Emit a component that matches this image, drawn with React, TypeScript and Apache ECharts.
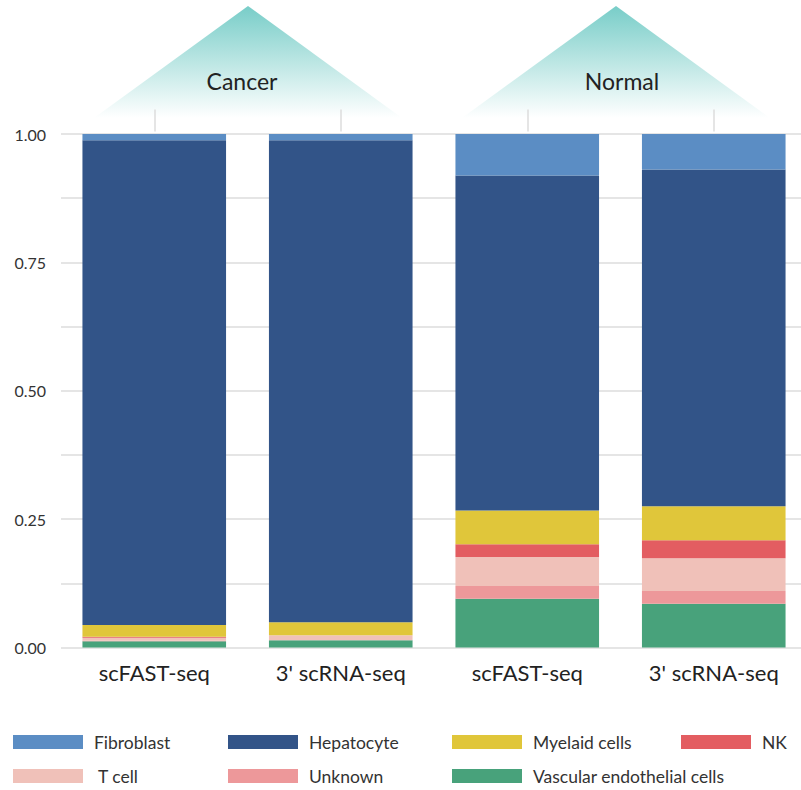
import React, { useEffect, useRef } from "react";
import * as echarts from "echarts";

const categories = ["scFAST-seq", "3' scRNA-seq", "scFAST-seq", "3' scRNA-seq"];
const yTicks = [0, 0.25, 0.5, 0.75, 1.0];

// stacked from bottom to top
const vascular = [0.012, 0.014, 0.095, 0.085];
const unknown = [0.001, 0.0, 0.025, 0.025];
const tcell = [0.006, 0.01, 0.056, 0.064];
const nk = [0.002, 0.0, 0.025, 0.035];
const myelaid = [0.023, 0.025, 0.066, 0.066];
const hepatocyte = [0.944, 0.939, 0.652, 0.656];
const fibroblast = [0.012, 0.012, 0.081, 0.069];

const groups = ["Cancer", "Normal"];

const FONT = "Lato";

export default function App() {
  const ref = useRef<HTMLDivElement>(null);
  useEffect(() => {
    if (!ref.current) return;
    const chart = echarts.init(ref.current, null, { renderer: "svg" });
    const mk = (name: string, data: number[], color: string) => ({
      name,
      type: "bar",
      stack: "total",
      data,
      barWidth: "77%",
      itemStyle: { color },
      emphasis: { disabled: true },
    });
    const triGrad = {
      type: "linear",
      x: 0,
      y: 0,
      x2: 0,
      y2: 1,
      colorStops: [
        { offset: 0, color: "rgba(120,205,200,1)" },
        { offset: 1, color: "rgba(120,205,200,0)" },
      ],
    };
    const legendCommon = {
      orient: "vertical",
      top: 733,
      height: 56,
      itemWidth: 70,
      itemHeight: 14,
      itemGap: 16,
      icon: "rect",
      padding: 0,
      selectedMode: false,
      textStyle: { fontSize: 17.5, color: "#333", fontFamily: FONT, padding: [0, 0, 0, 6] },
    };
    chart.setOption({
      animation: false,
      textStyle: { fontFamily: FONT },
      grid: { left: 61, top: 134, width: 746, height: 513.5 },
      xAxis: [
        {
          type: "category",
          data: categories,
          axisLine: { show: false },
          axisTick: { show: false },
          axisLabel: { fontSize: 22, color: "#222", margin: 14, fontFamily: FONT },
        },
        {
          type: "category",
          position: "top",
          data: categories,
          offset: 2.5,
          axisLine: { show: false },
          axisTick: { show: true, alignWithLabel: true, length: 22, lineStyle: { color: "#dcdcdc", width: 1.5 } },
          axisLabel: { show: false },
        },
      ],
      yAxis: {
        type: "value",
        min: 0,
        max: 1,
        interval: 0.125,
        axisLine: { show: false },
        axisTick: { show: false },
        splitLine: { lineStyle: { color: "#dcdcdc", width: 1.5 } },
        axisLabel: {
          fontSize: 16,
          color: "#333",
          margin: 15,
          fontFamily: FONT,
          formatter: (v: number) => {
            const t = yTicks.find((x) => Math.abs(x - v) < 1e-6);
            return t === undefined ? "" : t.toFixed(2);
          },
        },
      },
      legend: [
        { ...legendCommon, left: 13, data: ["Fibroblast", " T cell"] },
        { ...legendCommon, left: 228, data: ["Hepatocyte", "Unknown"] },
        { ...legendCommon, left: 452, data: ["Myelaid cells", "Vascular endothelial cells"] },
        { ...legendCommon, left: 681, data: ["NK"] },
      ],
      graphic: [
        {
          type: "polygon",
          z: -1,
          shape: { points: [[248, 6], [402, 118], [94, 118]] },
          style: { fill: triGrad },
        },
        {
          type: "polygon",
          z: -1,
          shape: { points: [[616, 6], [770, 118], [462, 118]] },
          style: { fill: triGrad },
        },
        {
          type: "text",
          x: 242,
          y: 81,
          style: { text: groups[0], fontSize: 23, fill: "#222", fontFamily: FONT, textAlign: "center", textVerticalAlign: "middle" },
        },
        {
          type: "text",
          x: 622,
          y: 81,
          style: { text: groups[1], fontSize: 23, fill: "#222", fontFamily: FONT, textAlign: "center", textVerticalAlign: "middle" },
        },
        {
          type: "line",
          shape: { x1: 14, y1: 709, x2: 787, y2: 709 },
          style: {
            lineWidth: 2,
            stroke: {
              type: "linear",
              x: 0,
              y: 0,
              x2: 1,
              y2: 0,
              colorStops: [
                { offset: 0, color: "#9edcdc" },
                { offset: 1, color: "#f6d162" },
              ],
            },
          },
        },
      ],
      series: [
        mk("Vascular endothelial cells", vascular, "#48a27b"),
        mk("Unknown", unknown, "#ed989a"),
        mk(" T cell", tcell, "#f0c1b9"),
        mk("NK", nk, "#e35d61"),
        mk("Myelaid cells", myelaid, "#e0c63a"),
        mk("Hepatocyte", hepatocyte, "#325488"),
        mk("Fibroblast", fibroblast, "#5b8dc4"),
      ],
    });
    return () => chart.dispose();
  }, []);
  return (
    <div style={{ position: "absolute", left: 0, top: 0, width: 801, height: 790, overflow: "hidden" }}>
      <div ref={ref} style={{ width: 830, height: 790 }} />
    </div>
  );
}
